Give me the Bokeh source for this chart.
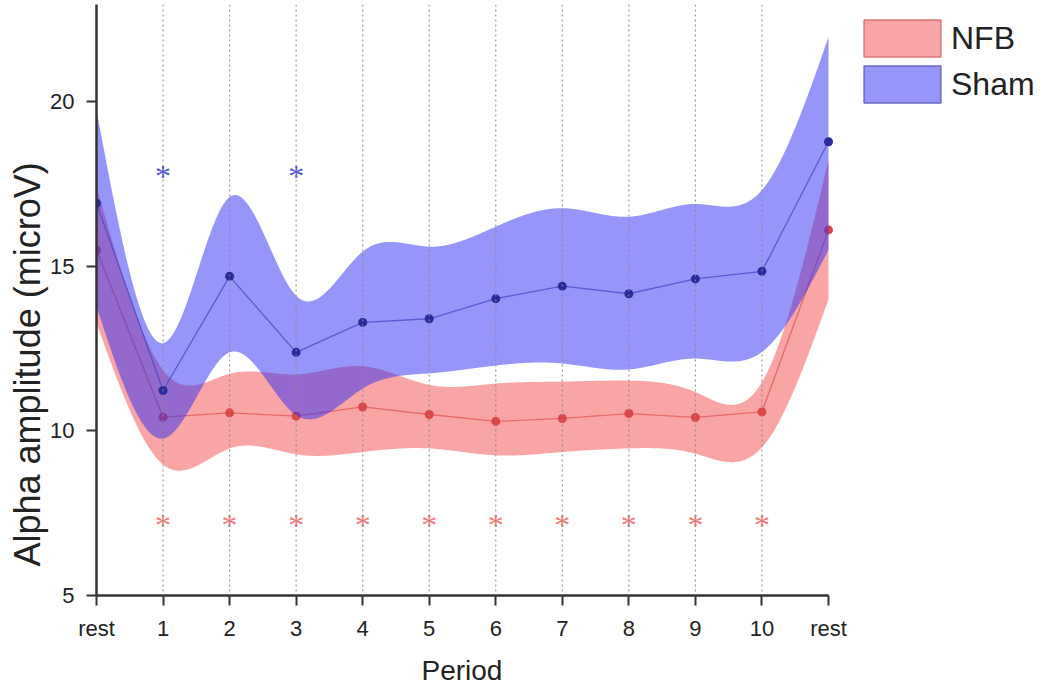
import numpy as np
from bokeh.plotting import figure
from bokeh.models import (FixedTicker, Range1d, Span, Title, Legend, LegendItem)
from bokeh.embed import file_html
from bokeh.resources import INLINE

# ---------------- data ----------------
period_labels = ["rest", "1", "2", "3", "4", "5", "6", "7", "8", "9", "10", "rest"]

nfb_mean  = [15.50, 10.42, 10.55, 10.45, 10.73, 10.50, 10.29, 10.38, 10.53, 10.41, 10.58, 16.11]
nfb_upper = [17.42, 11.85, 11.74, 11.72, 11.97, 11.40, 11.44, 11.50, 11.53, 11.18, 11.48, 18.23]
nfb_lower = [13.28,  8.98,  9.47,  9.29,  9.36,  9.47,  9.26,  9.36,  9.47,  9.31,  9.50, 14.00]

sham_mean  = [16.92, 11.23, 14.70, 12.39, 13.30, 13.41, 14.02, 14.40, 14.17, 14.62, 14.85, 18.79]
sham_upper = [19.75, 12.67, 17.11, 14.11, 15.45, 15.60, 16.21, 16.77, 16.51, 16.90, 17.32, 21.97]
sham_lower = [13.78,  9.77, 12.39, 10.48, 11.29, 11.75, 11.99, 12.05, 11.87, 12.20, 12.40, 15.50]

y_ticks = [5, 10, 15, 20]
y_min, y_max = 5, 22.96

sham_sig_periods = [1, 3]
sham_sig_level = 17.84
nfb_sig_periods = [1, 2, 3, 4, 5, 6, 7, 8, 9, 10]
nfb_sig_level = 7.27

# ---------------- helpers ----------------
def natural_spline(xs, ys, xf):
    xs = np.asarray(xs, float); ys = np.asarray(ys, float)
    n = len(xs); h = np.diff(xs)
    A = np.zeros((n, n)); b = np.zeros(n)
    A[0, 0] = 1; A[-1, -1] = 1
    for i in range(1, n - 1):
        A[i, i - 1] = h[i - 1]; A[i, i] = 2 * (h[i - 1] + h[i]); A[i, i + 1] = h[i]
        b[i] = 6 * ((ys[i + 1] - ys[i]) / h[i] - (ys[i] - ys[i - 1]) / h[i - 1])
    M = np.linalg.solve(A, b)
    idx = np.clip(np.searchsorted(xs, xf) - 1, 0, n - 2)
    x0, x1 = xs[idx], xs[idx + 1]; hh = x1 - x0
    y0, y1 = ys[idx], ys[idx + 1]; m0, m1 = M[idx], M[idx + 1]
    return (m0 * (x1 - xf) ** 3 / (6 * hh) + m1 * (xf - x0) ** 3 / (6 * hh)
            + (y0 / hh - m0 * hh / 6) * (x1 - xf) + (y1 / hh - m1 * hh / 6) * (xf - x0))

xs = np.arange(len(period_labels))
xf = np.linspace(0, xs[-1], 700)

FONT = "Liberation Sans"
RED = "#f54b4b"
BLUE = "#2d2df5"

# layout geometry (pixels)
W, H = 1045, 695
LEFT, RIGHT, TOP, BOTTOM = 96, 5, 4, 99
DATA_W = 732                      # pixel width spanned by the 12 periods
frame_w = W - LEFT - RIGHT
x_end = xs[-1] * frame_w / DATA_W  # extra room on the right holds the legend

# ---------------- figure ----------------
p = figure(width=W, height=H, output_backend="svg", toolbar_location=None,
           x_range=Range1d(0, x_end), y_range=Range1d(y_min, y_max),
           min_border_left=LEFT, min_border_right=RIGHT, min_border_top=TOP,
           min_border_bottom=BOTTOM)
p.outline_line_color = None
p.grid.visible = False
p.background_fill_color = "white"
p.border_fill_color = "white"

# NFB band, line, points
p.varea(x=xf, y1=natural_spline(xs, nfb_lower, xf), y2=natural_spline(xs, nfb_upper, xf),
        fill_color=RED, fill_alpha=0.5)
p.line(xs, nfb_mean, line_color="#e05a5a", line_width=1.3, line_alpha=0.8)
p.scatter(xs, nfb_mean, size=9, fill_color="#e04545", line_color=None)

# Sham band, line, points
p.varea(x=xf, y1=natural_spline(xs, sham_lower, xf), y2=natural_spline(xs, sham_upper, xf),
        fill_color=BLUE, fill_alpha=0.5)
p.line(xs, sham_mean, line_color="#4a4ac8", line_width=1.3, line_alpha=0.8)
p.scatter(xs, sham_mean, size=9, fill_color="#2a2a9c", line_color=None)

# significance asterisks
p.text(x=sham_sig_periods, y=[sham_sig_level] * len(sham_sig_periods),
       text=["*"] * len(sham_sig_periods), text_align="center", text_baseline="middle",
       text_font_size="32px", text_color="#5555d5", y_offset=3, text_font=FONT)
p.text(x=nfb_sig_periods, y=[nfb_sig_level] * len(nfb_sig_periods),
       text=["*"] * len(nfb_sig_periods), text_align="center", text_baseline="middle",
       text_font_size="32px", text_color="#f47a7a", y_offset=4, text_font=FONT)

# dotted vertical guides
for i in xs[1:-1]:
    p.add_layout(Span(location=int(i), dimension="height", line_color="#8a8a8a",
                      line_dash="2 3", line_width=1.2, line_alpha=0.85))

# axes
for ax in (p.xaxis[0], p.yaxis[0]):
    ax.axis_line_width = 2.5
    ax.axis_line_color = "#333333"
    ax.major_tick_line_width = 2
    ax.major_tick_line_color = "#333333"
    ax.major_tick_out = 10
    ax.major_tick_in = 0
    ax.minor_tick_out = 0
    ax.minor_tick_in = 0
    ax.major_label_text_font = FONT
    ax.major_label_text_font_size = "22px"
    ax.major_label_text_color = "#222222"
    ax.major_label_standoff = 10

p.yaxis.major_label_standoff = 12

p.xaxis.bounds = (0, int(xs[-1]))
p.xaxis.ticker = FixedTicker(ticks=[int(i) for i in xs])
p.xaxis.major_label_overrides = {int(i): lab for i, lab in zip(xs, period_labels)}

p.yaxis.ticker = FixedTicker(ticks=y_ticks)

xlab = Title(text="Period", align="left", offset=DATA_W / 2 - 41, standoff=19,
             text_font=FONT, text_font_size="28px", text_font_style="normal",
             text_color="#222222")
p.add_layout(xlab, "below")

ylab = Title(text="Alpha amplitude (microV)", align="left", offset=29, standoff=0,
             text_font=FONT, text_font_size="36px", text_font_style="normal",
             text_color="#222222")
p.add_layout(ylab, "left")

# legend (inside the widened frame, to the right of the data)
nan = [float("nan")]
q1 = p.quad(left=nan, right=nan, top=nan, bottom=nan, fill_color=RED, fill_alpha=0.5,
            line_color="#d87a7a", line_width=1.5)
q2 = p.quad(left=nan, right=nan, top=nan, bottom=nan, fill_color=BLUE, fill_alpha=0.5,
            line_color="#6a6ac0", line_width=1.5)
legend = Legend(items=[LegendItem(label="NFB", renderers=[q1]),
                       LegendItem(label="Sham", renderers=[q2])],
                location=(758, 488), glyph_width=96, glyph_height=46, spacing=-4,
                padding=0, margin=0, label_standoff=1,
                label_text_font=FONT, label_text_font_size="32px", label_text_color="#222222",
                border_line_color=None, background_fill_alpha=0)
p.add_layout(legend)

open("out.html", "w").write(file_html(p, INLINE))
